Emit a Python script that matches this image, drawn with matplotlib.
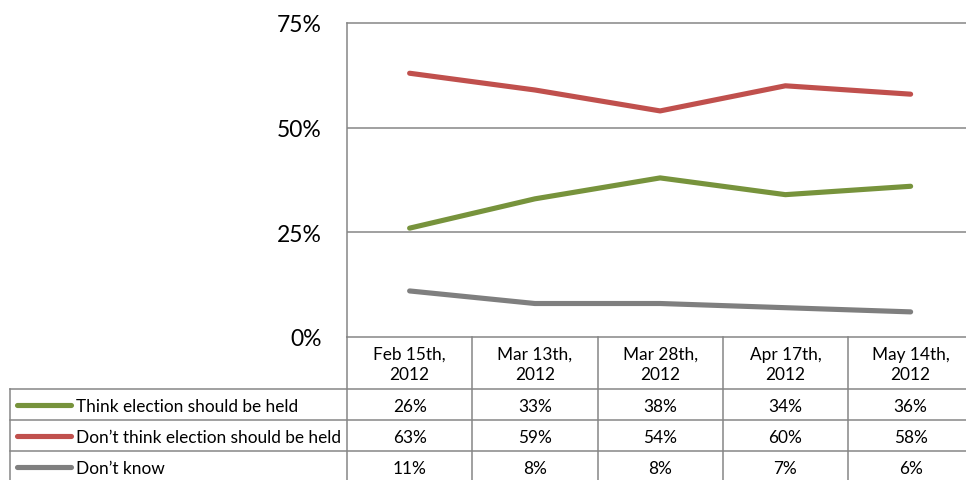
import matplotlib
matplotlib.use("Agg")
import matplotlib.pyplot as plt
from matplotlib.lines import Line2D

plt.rcParams['font.family'] = ['Lato', 'DejaVu Sans']

categories = ["Feb 15th,\n2012", "Mar 13th,\n2012", "Mar 28th,\n2012", "Apr 17th,\n2012", "May 14th,\n2012"]
series_names = ["Think election should be held", "Don\u2019t think election should be held", "Don\u2019t know"]
think = [26, 33, 38, 34, 36]
dont_think = [63, 59, 54, 60, 58]
dont_know = [11, 8, 8, 7, 6]
series_values = [think, dont_think, dont_know]
colors = ["#77933C", "#C0504D", "#7F7F7F"]
yticks = [0, 25, 50, 75]

W, H = 966, 481
fig = plt.figure(figsize=(W / 100, H / 100), dpi=100)

# plot area pixel geometry
left_px, top_px, bottom_px = 347, 24, 338
col_w = 125.25
ncol = len(categories)
right_px = left_px + col_w * ncol
grid_c = "#868686"

ax = fig.add_axes([left_px / W, (H - bottom_px) / H, (right_px - left_px) / W, (bottom_px - top_px) / H])
x = list(range(ncol))
for vals, c in zip(series_values, colors):
    ax.plot(x, vals, color=c, lw=3.7, solid_capstyle='round', solid_joinstyle='round')
ax.set_xlim(-0.5, ncol - 0.5)
ax.set_ylim(0, 75)
ax.set_yticks(yticks)
ax.set_yticklabels([f"{v}%" for v in yticks], fontsize=16.5, color="#000000")
ax.tick_params(axis='y', length=0, pad=18)
ax.set_xticks([])
for y in [25, 50]:
    ax.axhline(y, color=grid_c, lw=1.1)
for s in ['left', 'top', 'bottom']:
    ax.spines[s].set_color(grid_c)
    ax.spines[s].set_linewidth(1.1)
ax.spines['right'].set_visible(False)

# overlay for data table
ov = fig.add_axes([0, 0, 1, 1])
ov.set_xlim(0, W)
ov.set_ylim(H, 0)
ov.axis('off')
ov.patch.set_alpha(0)

table_left = 10
lw = 1.1
# horizontal lines
for yy in [390, 421, 452]:
    ov.plot([table_left, W], [yy, yy], color=grid_c, lw=lw)
# vertical lines
ov.plot([table_left, table_left], [390, H], color=grid_c, lw=lw)
for k in range(1, ncol):
    xx = left_px + col_w * k
    ov.plot([xx, xx], [338, H], color=grid_c, lw=lw)
ov.plot([left_px, left_px], [338, H], color=grid_c, lw=lw)

fs = 12.4
# header
for k, cat in enumerate(categories):
    cx = left_px + col_w * (k + 0.5)
    ov.text(cx, 365, cat, ha='center', va='center', fontsize=fs, linespacing=1.3, color="#000000")

row_centers = [407, 438, 469]
for r, (name, vals, c) in enumerate(zip(series_names, series_values, colors)):
    cy = row_centers[r]
    ov.add_line(Line2D([17, 71], [cy - 1, cy - 1], color=c, lw=3.7, solid_capstyle='round'))
    ov.text(76, cy, name, ha='left', va='center', fontsize=fs, color="#000000")
    for k, v in enumerate(vals):
        cx = left_px + col_w * (k + 0.5)
        ov.text(cx, cy, f"{v}%", ha='center', va='center', fontsize=fs, color="#000000")

fig.savefig("out.png", dpi=100)
